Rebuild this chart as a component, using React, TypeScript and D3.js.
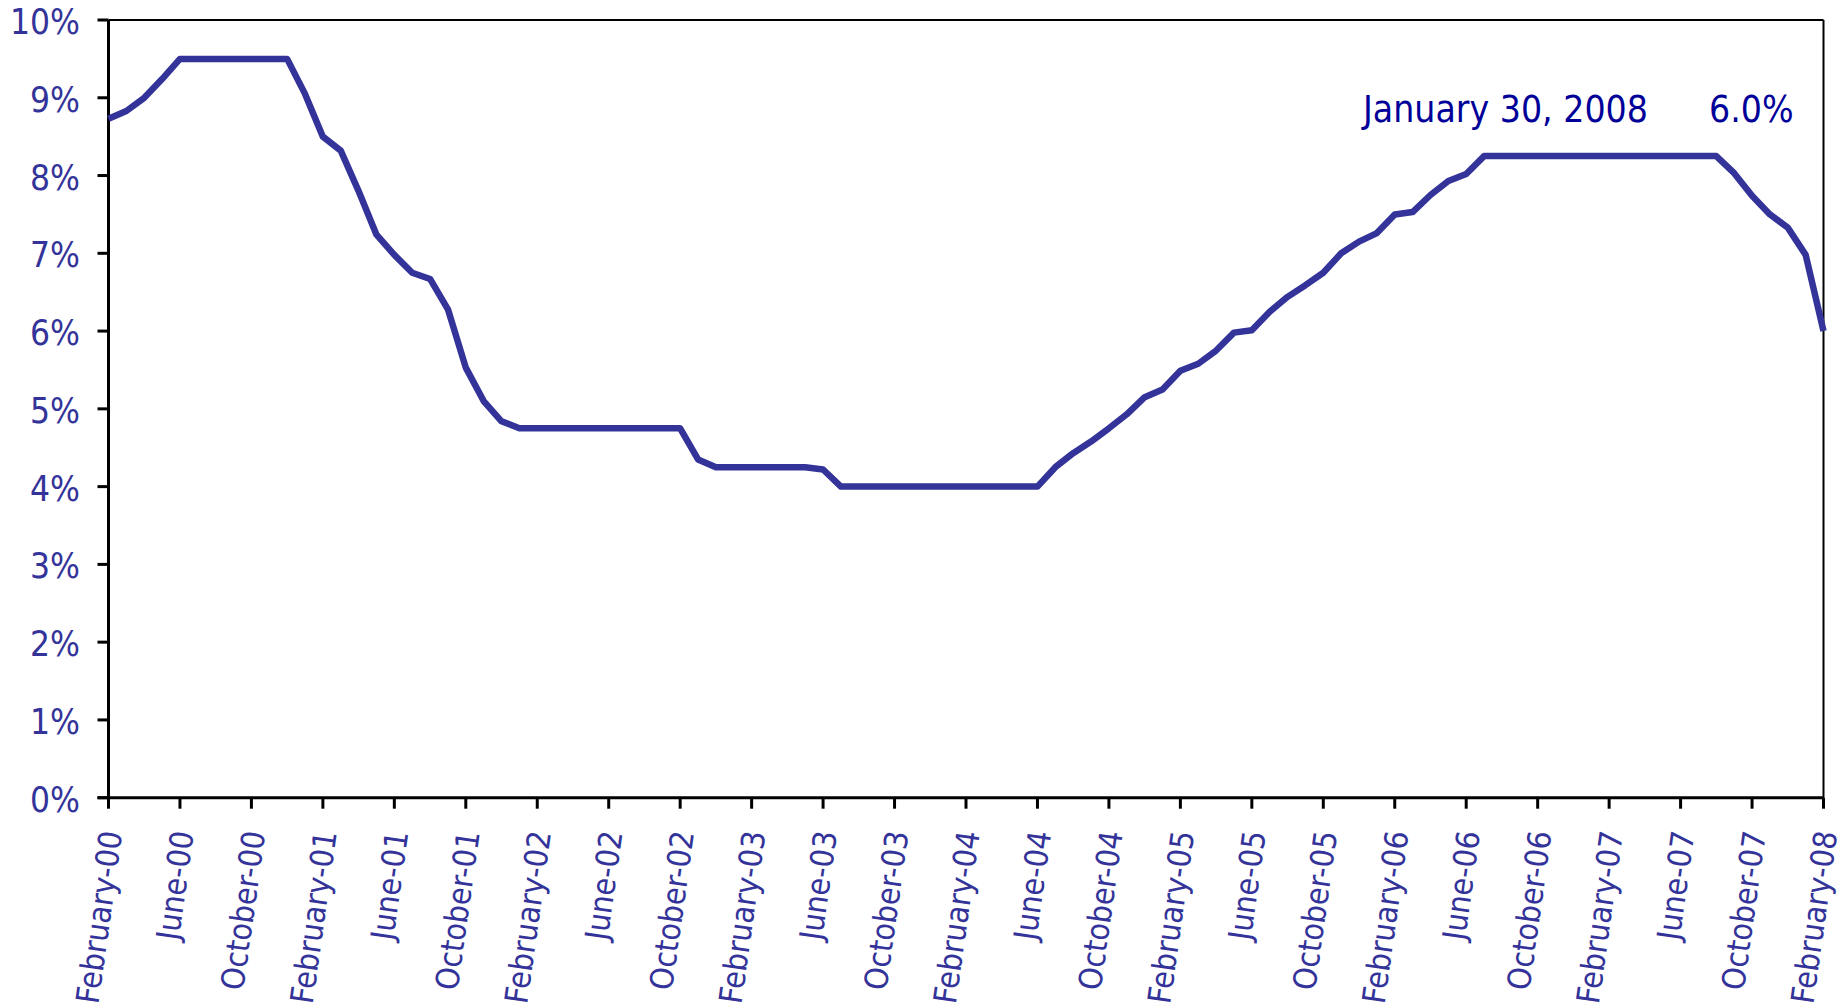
import React from "react";
import * as d3 from "d3";

// Monthly values, February 2000 .. February 2008 (percent)
const values2000: number[] = [8.73, 8.83, 9.0, 9.24, 9.5, 9.5, 9.5, 9.5, 9.5, 9.5, 9.5];
const values2001: number[] = [9.05, 8.5, 8.32, 7.8, 7.24, 6.98, 6.75, 6.67, 6.28, 5.53, 5.1, 4.84];
const values2002: number[] = [4.75, 4.75, 4.75, 4.75, 4.75, 4.75, 4.75, 4.75, 4.75, 4.75, 4.35, 4.25];
const values2003: number[] = [4.25, 4.25, 4.25, 4.25, 4.25, 4.22, 4.0, 4.0, 4.0, 4.0, 4.0, 4.0];
const values2004: number[] = [4.0, 4.0, 4.0, 4.0, 4.0, 4.0, 4.25, 4.43, 4.58, 4.75, 4.93, 5.15];
const values2005: number[] = [5.25, 5.49, 5.58, 5.75, 5.98, 6.01, 6.25, 6.44, 6.59, 6.75, 7.0, 7.15];
const values2006: number[] = [7.26, 7.5, 7.53, 7.75, 7.93, 8.02, 8.25, 8.25, 8.25, 8.25, 8.25, 8.25];
const values2007: number[] = [8.25, 8.25, 8.25, 8.25, 8.25, 8.25, 8.25, 8.25, 8.03, 7.74, 7.5, 7.33];
const values2008: number[] = [6.98, 6.0];

const series: number[] = [
  ...values2000, ...values2001, ...values2002, ...values2003, ...values2004,
  ...values2005, ...values2006, ...values2007, ...values2008,
];

const xTickLabels: string[] = [
  "February-00", "June-00", "October-00",
  "February-01", "June-01", "October-01",
  "February-02", "June-02", "October-02",
  "February-03", "June-03", "October-03",
  "February-04", "June-04", "October-04",
  "February-05", "June-05", "October-05",
  "February-06", "June-06", "October-06",
  "February-07", "June-07", "October-07",
  "February-08",
];
const xTickStep = 4; // months between labels

const yTicks: number[] = [0, 1, 2, 3, 4, 5, 6, 7, 8, 9, 10];

const annotationDate = "January 30, 2008";
const annotationValue = "6.0%";

const FONT = "'DejaVu Sans Condensed', 'DejaVu Sans', sans-serif";
const LABEL_COLOR = "#333399";
const LINE_COLOR = "#333399";
const ANNOT_COLOR = "#000099";

export default function App() {
  const W = 1848;
  const H = 1008;
  const left = 108.5;
  const right = 1823.5;
  const top = 20;
  const bottom = 797.7;

  const x = d3.scaleLinear().domain([0, series.length - 1]).range([left, right]);
  const y = d3.scaleLinear().domain([0, 10]).range([bottom, top]);

  const line = d3
    .line<number>()
    .x((_, i) => x(i))
    .y((d) => y(d));

  return (
    <svg
      width={W}
      height={H}
      style={{ position: "absolute", left: 0, top: 0, background: "#fff" }}
      fontFamily={FONT}
    >
      <rect x={0} y={0} width={W} height={H} fill="#fff" />
      {/* frame top/right */}
      <line x1={left} x2={right} y1={top} y2={top} stroke="#000" strokeWidth={2} />
      <line x1={right} x2={right} y1={top} y2={bottom} stroke="#000" strokeWidth={2} />

      {/* y axis */}
      <line x1={left} x2={left} y1={top} y2={bottom} stroke="#000" strokeWidth={3} />
      {yTicks.map((t) => (
        <g key={t}>
          <line x1={left - 11} x2={left} y1={y(t)} y2={y(t)} stroke="#000" strokeWidth={3} />
          <text
            x={80}
            y={y(t) + 14}
            textAnchor="end"
            fontSize={35}
            fill={LABEL_COLOR}
          >
            {`${t}%`}
          </text>
        </g>
      ))}

      {/* x axis */}
      <line x1={left - 11} x2={right} y1={bottom} y2={bottom} stroke="#000" strokeWidth={3} />
      {xTickLabels.map((lab, i) => {
        const xi = x(i * xTickStep);
        return (
          <g key={lab}>
            <line x1={xi} x2={xi} y1={bottom} y2={bottom + 11} stroke="#000" strokeWidth={3} />
            <text
              transform={`translate(${xi + 3},${831}) rotate(-82)`}
              textAnchor="end"
              dominantBaseline="central"
              fontSize={32}
              fill={LABEL_COLOR}
            >
              {lab}
            </text>
          </g>
        );
      })}

      {/* series */}
      <path d={line(series) || ""} fill="none" stroke={LINE_COLOR} strokeWidth={6.5} strokeLinejoin="round" />

      {/* annotation */}
      <text x={1363} y={122} fontSize={37} fill={ANNOT_COLOR}>
        {annotationDate}
      </text>
      <text x={1709} y={122} fontSize={37} fill={ANNOT_COLOR}>
        {annotationValue}
      </text>
    </svg>
  );
}
